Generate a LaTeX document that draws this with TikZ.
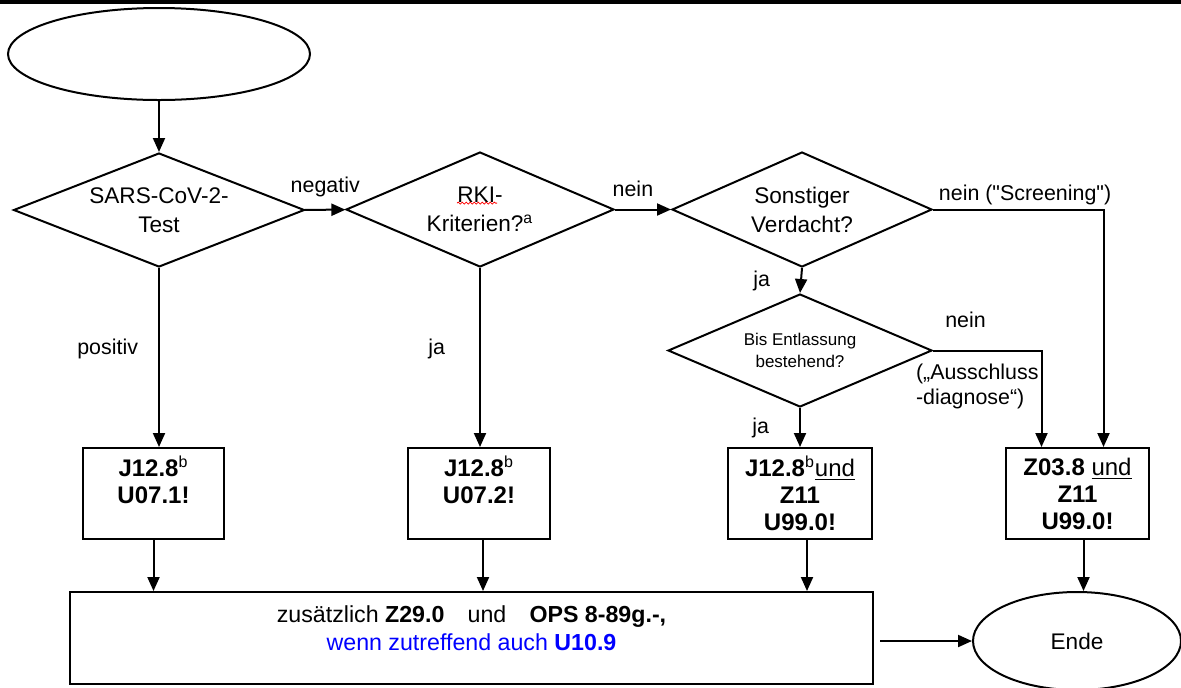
\documentclass[tikz,border=0pt]{standalone}
\usepackage{fontspec}
\setmainfont{Liberation Sans}[Ligatures=TeXOff]
\usepackage{tikz}
\usetikzlibrary{arrows.meta,positioning,shapes.geometric,decorations.pathmorphing}

\newcommand\askfont{\fontsize{11.3}{14.5}\selectfont}
\newcommand\tagfont{\fontsize{10.7}{12.5}\selectfont}
\newcommand\codefont{\fontsize{12}{13.5}\selectfont\bfseries}
\newcommand\tinyask{\fontsize{8.5}{11}\selectfont}

\begin{document}
\begin{tikzpicture}[
    x=0.5pt, y=-0.5pt,
    term/.style={draw, ellipse, line width=1pt, inner sep=0pt, font=\askfont},
    decide/.style={draw, diamond, line width=1pt, inner sep=0pt, align=center, font=\askfont},
    codebox/.style={draw, line width=1pt, minimum width=71pt, minimum height=45.5pt,
                    inner sep=0pt, align=center, font=\codefont},
    arr/.style={-{Triangle[length=7pt,width=6pt]}, line width=1pt},
    lbl/.style={font=\tagfont, inner sep=1pt}
]
    \useasboundingbox (0,0) rectangle (1181,687);
    \fill (0,0) rectangle (1181,4);

    % questions
    \node[term, minimum width=151pt, minimum height=46pt] (start) at (159,54) {};
    \node[decide, aspect=2.55, minimum width=145.5pt, minimum height=57pt] (test) at (159,210) {SARS-CoV-2-\\Test};
    \node[decide, aspect=2.33, minimum width=134pt, minimum height=57.5pt] (rki) at (480,209.5) {RKI-\\Kriterien?\textsuperscript{a}};
    \node[decide, aspect=2.26, minimum width=130pt, minimum height=57.5pt] (other) at (802,209.5) {Sonstiger\\Verdacht?};
    \node[decide, aspect=2.34, minimum width=132pt, minimum height=56.5pt, font=\tinyask] (lasting) at (800,350.5) {Bis Entlassung\\bestehend?};

    % codes
    \node[codebox, minimum width=70.5pt] (positive) at (153.5,493.5) {J12.8\textsuperscript{\mdseries b}\\U07.1!\\\vphantom{U}};
    \node[codebox] (rkicase) at (479,493.5) {J12.8\textsuperscript{\mdseries b}\\U07.2!\\\vphantom{U}};
    \node[codebox, minimum width=72pt] (suspect) at (800,493.5) {J12.8\textsuperscript{\mdseries b}\underline{\mdseries und}\\Z11\\U99.0!};
    \node[codebox, minimum width=71.5pt] (screen) at (1077.5,493.5) {Z03.8 \underline{\mdseries und}\\Z11\\U99.0!};

    \node[draw, line width=1pt, minimum width=401.5pt, minimum height=46pt, inner sep=0pt,
          align=center, font=\fontsize{11.6}{14}\selectfont] (extra) at (471.5,638)
          {\rule{0pt}{12.3pt}zusätzlich \textbf{Z29.0}\quad und\quad \textbf{OPS 8-89g.-,}\\
           \color{blue}wenn zutreffend auch \textbf{U10.9}\\\vphantom{U}};
    \node[term, minimum width=104pt, minimum height=49pt] (ende) at (1077,641) {Ende};

    % connectors
    \draw[arr] (start) -- (test);
    \draw[arr] (test) -- node[lbl, above=5pt] {negativ} (rki);
    \draw[arr] (rki) -- node[lbl, above=5pt, pos=0.32] {nein} (other);
    \draw[arr] (other.east) -| node[lbl, above=1pt, pos=0.27] {nein ("Screening")} ([xshift=13pt]screen.north);
    \draw[arr] (other.south) -- node[lbl, left=14pt] {ja} (lasting.north);
    \draw[arr] (lasting.east) -| node[lbl, above=10pt, pos=0.15] {nein}
        node[lbl, pos=0.5, below left=5pt and 0pt, align=left] {(„Ausschluss\\-diagnose“)}
        ([xshift=-18pt]screen.north);
    \draw[arr] (lasting.south) -- node[lbl, left=14pt] {ja} (suspect.north);
    \draw[arr] (test.south) -- node[lbl, left=9pt, pos=0.45] {positiv} (test.south |- positive.north);
    \draw[arr] (rki.south) -- node[lbl, left=16pt, pos=0.45] {ja} (rki.south |- rkicase.north);

    \draw[arr] (positive.south) -- (positive.south |- extra.north);
    \draw[arr] ([xshift=2pt]rkicase.south) -- ([xshift=2pt]rkicase.south |- extra.north);
    \draw[arr] ([xshift=3.5pt]suspect.south) -- ([xshift=3.5pt]suspect.south |- extra.north);
    \draw[arr] ([xshift=3pt]screen.south) -- ([xshift=3pt]screen.south |- ende.north);
    \draw[arr] ([xshift=3pt]extra.east |- ende.west) -- (ende.west);

    % spell check mark
    \draw[red, line width=0.4pt, decorate, decoration={snake, amplitude=0.5pt, segment length=2pt}]
        ([shift={(-11.5pt,3.2pt)}]rki.center) -- ([shift={(8.5pt,3.2pt)}]rki.center);
\end{tikzpicture}
\end{document}
